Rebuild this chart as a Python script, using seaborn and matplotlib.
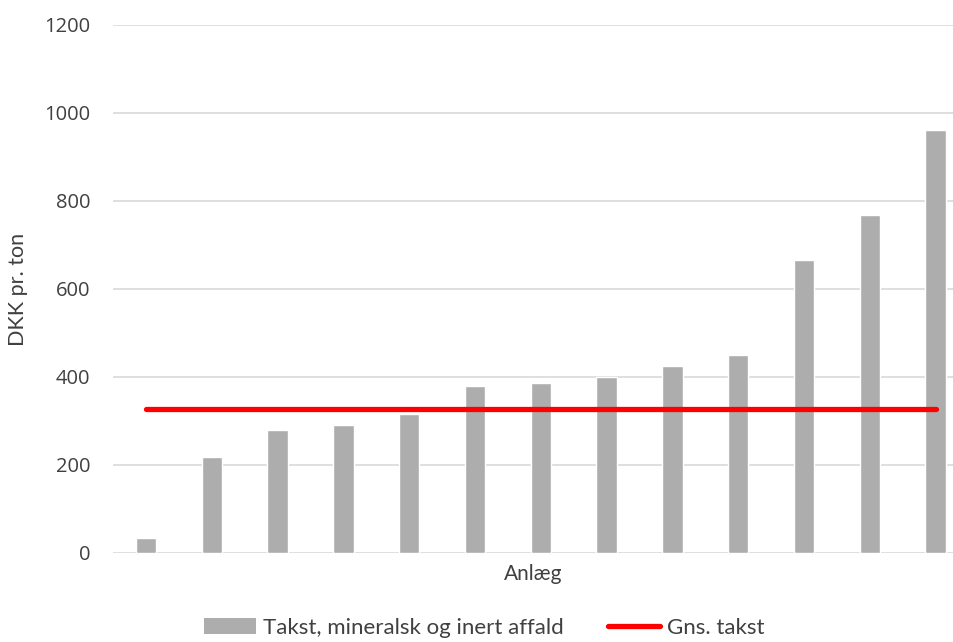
import numpy as np
import pandas as pd
import matplotlib
matplotlib.use("Agg")
import matplotlib.pyplot as plt
import seaborn as sns
from matplotlib.patches import Patch
from matplotlib.lines import Line2D

# data
anlaeg = ["A1", "A2", "A3", "A4", "A5", "A6", "A7", "A8", "A9", "A10", "A11", "A12", "A13"]
takst = [35, 219, 280, 292, 315, 380, 386, 400, 425, 450, 665, 769, 961]
gns_takst = [327, 327, 327, 327, 327, 327, 327, 327, 327, 327, 327, 327, 327]

df = pd.DataFrame({"Anlæg": anlaeg, "Takst": takst, "Gns": gns_takst})

sns.set_theme(style="white")
plt.rcParams['font.family'] = ['Lato', 'DejaVu Sans']

bar_color = "#aeadad"
line_color = "#ff0000"
text_color = "#404040"

fig = plt.figure(figsize=(9.54, 6.42), dpi=100)
ax = fig.add_axes([113 / 954, (642 - 553) / 642, (954 - 113) / 954, 528 / 642])

sns.barplot(data=df, x="Anlæg", y="Takst", color=bar_color, width=0.31,
            saturation=1, ax=ax, zorder=2)
sns.lineplot(x=np.arange(len(anlaeg)), y=df["Gns"], color=line_color,
             linewidth=3.8, ax=ax, zorder=3, solid_capstyle="round")

ax.set_ylim(0, 1200)
ax.set_xlim(-0.5, 12.28)
ax.set_yticks(range(0, 1201, 200))
ax.yaxis.grid(True, color="#d9d9d9", linewidth=1.2, zorder=0)
ax.set_axisbelow(True)
ax.set_xticks([])
for s in ax.spines.values():
    s.set_visible(False)
ax.tick_params(axis="y", length=0, pad=16.5, labelsize=14.5, labelcolor=text_color)
for t in ax.get_yticklabels():
    t.set_fontfamily(["Open Sans", "DejaVu Sans"])

ax.set_xlabel("Anlæg", fontsize=15, color=text_color)
ax.set_ylabel("DKK pr. ton", fontsize=15.5, color=text_color)
ax.xaxis.set_label_coords(0.5, -0.02)
ax.yaxis.set_label_coords((28 - 113) / 841, 0.5)

handles = [Patch(facecolor=bar_color, edgecolor="none"),
           Line2D([0], [0], color=line_color, linewidth=3.8, solid_capstyle="round")]
fig.legend(handles, ["Takst, mineralsk og inert affald", "Gns. takst"],
           loc="center", bbox_to_anchor=(484 / 954, 1 - 628 / 642), ncol=2,
           frameon=False, fontsize=16, labelcolor=text_color,
           handlelength=2.35, handletextpad=0.3, columnspacing=2.0)

fig.savefig("out.png", dpi=100)
